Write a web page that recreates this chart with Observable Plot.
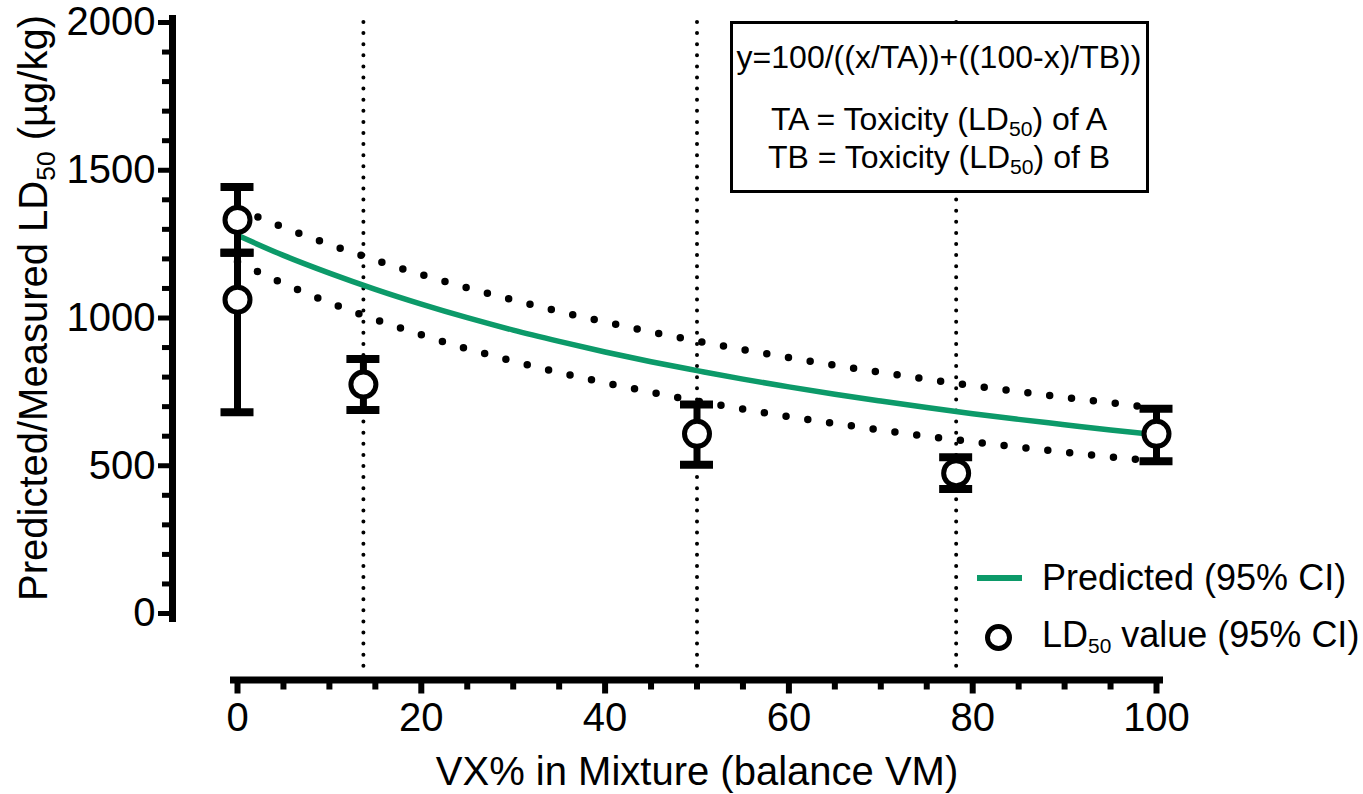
<!DOCTYPE html>
<html><head><meta charset="utf-8">
<script src="https://cdn.jsdelivr.net/npm/d3@7"></script>
<script src="https://cdn.jsdelivr.net/npm/@observablehq/plot@0.6"></script>
<style>
html,body{margin:0;padding:0;background:#fff;}
#wrap{position:relative;width:1363px;height:794px;font-family:"Liberation Sans",Arial,sans-serif;color:#000;overflow:hidden;}
#wrap svg{display:block;position:absolute;left:0;top:0;}
.abs{position:absolute;white-space:nowrap;line-height:1;}
.sub{font-size:0.66em;position:relative;top:0.3em;}
.lsub{font-size:0.58em;position:relative;top:0.32em;}
</style></head><body><div id="wrap"></div>
<script>
// Measured LD50 values (µg/kg) with 95% CI, by VX% in mixture
const mixX     = [0, 0, 13.7, 50, 78.2, 100];
const ld50     = [1332, 1062, 775, 608, 475, 608];
const ld50Low  = [1221, 681, 689, 503, 421, 515];
const ld50High = [1443, 1221, 861, 707, 529, 693];
// Mixture compositions tested (vertical reference lines)
const mixtureLines = [13.7, 50, 78.2];
// Predicted curve and its 95% CI
const curveX = [0,5,10,15,20,25,30,35,40,45,50,55,60,65,70,75,80,85,90,95,100];
const predicted      = [1280,1212,1152,1097,1047,1001,959,921,885,852,822,793,767,742,719,697,676,657,639,621,605];
const predictedUpper = [1370,1307,1249,1196,1147,1102,1061,1022,987,953,922,893,866,840,816,793,771,751,731,713,695];
const predictedLower = [1190,1117,1052,995,943,896,854,816,781,749,719,692,666,643,621,600,581,563,546,530,515];
// Ticks
const xTicks = [0,20,40,60,80,100];
const xMinorTicks = [5,10,15,25,30,35,45,50,55,65,70,75,85,90,95];
const yTicks = [0,500,1000,1500,2000];
const yMinorTicks = [100,200,300,400,600,700,800,900,1100,1200,1300,1400,1600,1700,1800,1900];

const points = mixX.map((x,i)=>({x, y: ld50[i], lo: ld50Low[i], hi: ld50High[i]}));
const curve = curveX.map((x,i)=>({x, pred: predicted[i], up: predictedUpper[i], low: predictedLower[i]}));

const GREEN = "#0c9a69";
const AX = -65, AY = 66.5;
const FONT = '"Liberation Sans", Arial, sans-serif';

const chart = Plot.plot({
  width: 1363, height: 794,
  marginLeft: 237, marginRight: 207, marginTop: 22, marginBottom: 181,
  x: {domain: [0, 100]},
  y: {domain: [0, 2000]},
  style: {fontFamily: FONT, fontSize: "40px", color: "#000", background: "transparent", overflow: "visible"},
  marks: [
    Plot.ruleX(mixtureLines, {stroke: "#000", strokeWidth: 4, strokeDasharray: "0 11.1", strokeLinecap: "round", insetBottom: -57}),
    Plot.line(curve, {x: "x", y: "up", curve: "monotone-x", stroke: "#000", strokeWidth: 7.5, strokeDasharray: "0 22", strokeLinecap: "round"}),
    Plot.line(curve, {x: "x", y: "low", curve: "monotone-x", stroke: "#000", strokeWidth: 7.5, strokeDasharray: "0 22", strokeLinecap: "round"}),
    Plot.line(curve, {x: "x", y: "pred", curve: "monotone-x", stroke: GREEN, strokeWidth: 5.5}),
    Plot.ruleX(points, {x: "x", y1: "lo", y2: "hi", stroke: "#000", strokeWidth: 7}),
    Plot.ruleY(points, {y: "lo", x1: "x", x2: "x", insetLeft: -16.5, insetRight: -16.5, stroke: "#000", strokeWidth: 8}),
    Plot.ruleY(points, {y: "hi", x1: "x", x2: "x", insetLeft: -16.5, insetRight: -16.5, stroke: "#000", strokeWidth: 8}),
    Plot.dot(points, {x: "x", y: "y", r: 12.5, fill: "#fff", stroke: "#000", strokeWidth: 5}),
    Plot.ruleX([0], {dx: AX, stroke: "#000", strokeWidth: 7, insetTop: -7, insetBottom: -9}),
    Plot.ruleY([0], {dy: AY, stroke: "#000", strokeWidth: 7, insetLeft: -7, insetRight: -7}),
    Plot.axisY(yTicks, {anchor: "left", dx: AX, tickSize: 14, tickPadding: 3, strokeWidth: 5, fontSize: 40, tickFormat: "d", label: null}),
    Plot.axisY(yMinorTicks, {anchor: "left", dx: AX, tickSize: 10, strokeWidth: 5, fill: "none", label: null}),
    Plot.axisX(xTicks, {anchor: "bottom", dy: AY, tickSize: 14, tickPadding: 9, strokeWidth: 6, fontSize: 40, tickFormat: "d", label: null}),
    Plot.axisX(xMinorTicks, {anchor: "bottom", dy: AY, tickSize: 10, strokeWidth: 6, fill: "none", label: null})
  ]
});

const wrap = document.getElementById("wrap");
wrap.appendChild(chart);

function add(html, style) {
  const d = document.createElement("div");
  d.className = "abs";
  d.innerHTML = html;
  Object.assign(d.style, style);
  wrap.appendChild(d);
  return d;
}
// Axis titles
add('Predicted/Measured LD<span class="sub">50</span> (µg/kg)', {
  left: "33px", top: "308px", fontSize: "40px", transform: "translate(-50%,-50%) rotate(-90deg)"
});
add('VX% in Mixture (balance VM)', {left: "697px", top: "751px", fontSize: "40px", transform: "translateX(-50%)"});

// Equation box
add('', {left: "730px", top: "21px", width: "419px", height: "172px", border: "3px solid #000",
  boxSizing: "border-box", background: "#fff"});
add('y=100/((x/TA))+((100-x)/TB))', {left: "939px", top: "41px", fontSize: "32px", transform: "translateX(-50%)"});
add('TA = Toxicity (LD<span class="sub">50</span>) of A', {left: "939px", top: "103px", fontSize: "32px", transform: "translateX(-50%)"});
add('TB = Toxicity (LD<span class="sub">50</span>) of B', {left: "939px", top: "141px", fontSize: "32px", transform: "translateX(-50%)"});

// Legend
add('', {left: "977px", top: "575px", width: "45px", height: "6px", background: GREEN});
add('Predicted (95% CI)', {left: "1042px", top: "559.5px", fontSize: "36px"});
add('', {left: "984.5px", top: "624px", width: "27px", height: "27px", border: "5px solid #000", borderRadius: "50%",
  boxSizing: "border-box", background: "#fff"});
add('LD<span class="lsub">50</span> value (95% CI)', {left: "1042px", top: "616.5px", fontSize: "36px"});
</script>
</body></html>
